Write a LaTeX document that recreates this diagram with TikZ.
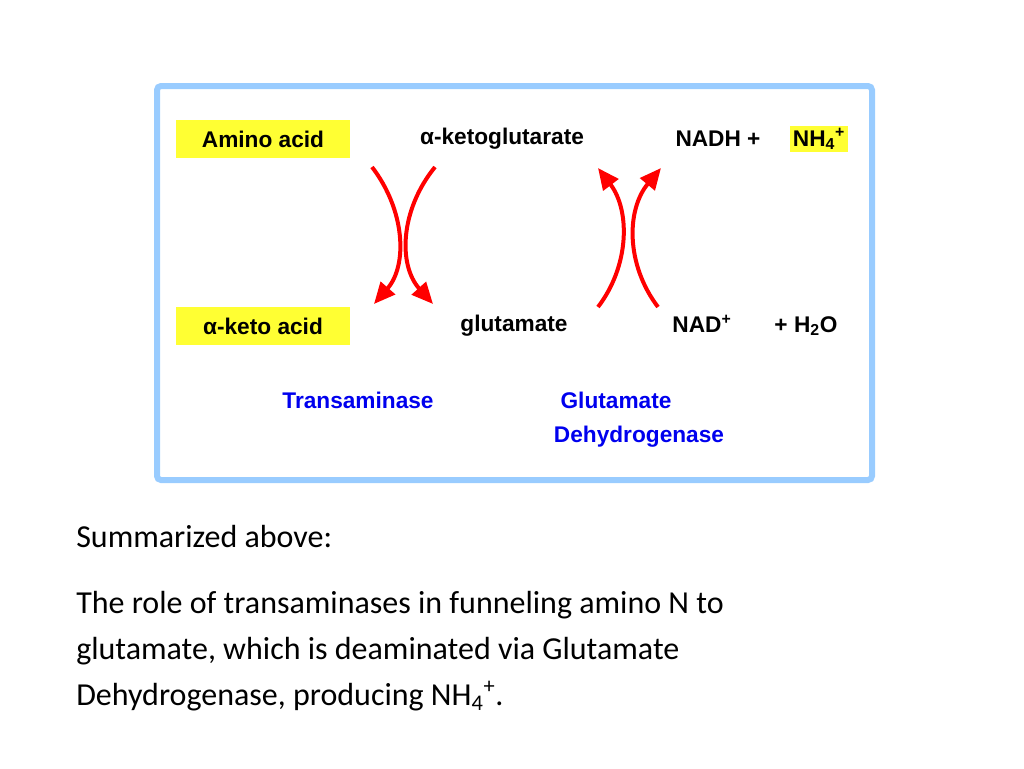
\documentclass[tikz,border=0pt]{standalone}
\usepackage{fontspec}
\setmainfont{Liberation Sans}
\newfontfamily\carlitofont{Carlito}
\usetikzlibrary{arrows.meta}
\definecolor{boxblue}{HTML}{99CCFF}
\definecolor{hl}{HTML}{FFFF33}
\definecolor{enz}{HTML}{0000EE}
\begin{document}
\begin{tikzpicture}[x=0.75pt,y=-0.75pt,
  lab/.style={font=\fontsize{17}{20}\selectfont\bfseries,inner sep=1pt},
  hlab/.style={lab,fill=hl,inner sep=2pt},
  enzlab/.style={lab,text=enz},
  body/.style={font=\carlitofont\fontsize{24}{34}\selectfont,anchor=west,inner sep=0pt},
  rarr/.style={draw=red,line width=3pt,-{Triangle[length=16pt,width=14pt]}}]
\useasboundingbox (0,0) rectangle (1024,768);
\draw[boxblue,line width=4.5pt,rounded corners=3pt] (157,86) rectangle (872,480);
\node[hlab,minimum width=130.5pt,minimum height=28pt] (aa) at (263,139) {Amino acid};
\node[lab] (akg) at (502,139) {α-ketoglutarate};
\node[lab] (nadh) at (718,139) {NADH +};
\node[hlab] (nh4) at (819,139) {NH\textsubscript{4}\textsuperscript{+}};
\node[hlab,minimum width=130.5pt,minimum height=28pt] (aka) at (263,326) {α-keto acid};
\node[lab] (glu) at (514,326) {glutamate};
\node[lab] (nad) at (702,324) {NAD\textsuperscript{+}};
\node[lab] (h2o) at (806,326) {+ H\textsubscript{2}O};
\node[enzlab] (ta) at (358,400) {Transaminase};
\node[enzlab] (gd1) at (616,400) {Glutamate};
\node[enzlab] (gd2) at (639,437) {Dehydrogenase};
\coordinate (l1s) at (372,167); \coordinate (l1e) at (374,304);
\coordinate (l2s) at (435,167); \coordinate (l2e) at (433,304);
\coordinate (r1s) at (598,307); \coordinate (r1e) at (598,168);
\coordinate (r2s) at (658,307); \coordinate (r2e) at (661,168);
\draw[rarr] (l1s) .. controls (405,210) and (408,265) .. (l1e);
\draw[rarr] (l2s) .. controls (400,210) and (398,265) .. (l2e);
\draw[rarr] (r1s) .. controls (630,265) and (630,210) .. (r1e);
\draw[rarr] (r2s) .. controls (626,265) and (626,210) .. (r2e);
\node[body] (s1) at (76,537) {Summarized above:};
\node[body] (s2) at (76,605) {The role of transaminases in funneling amino N to};
\node[body] (s3) at (76,651) {glutamate, which is deaminated via Glutamate};
\node[body] (s4) at (76,696) {Dehydrogenase, producing NH\textsubscript{4}\textsuperscript{+}.};
\end{tikzpicture}
\end{document}
